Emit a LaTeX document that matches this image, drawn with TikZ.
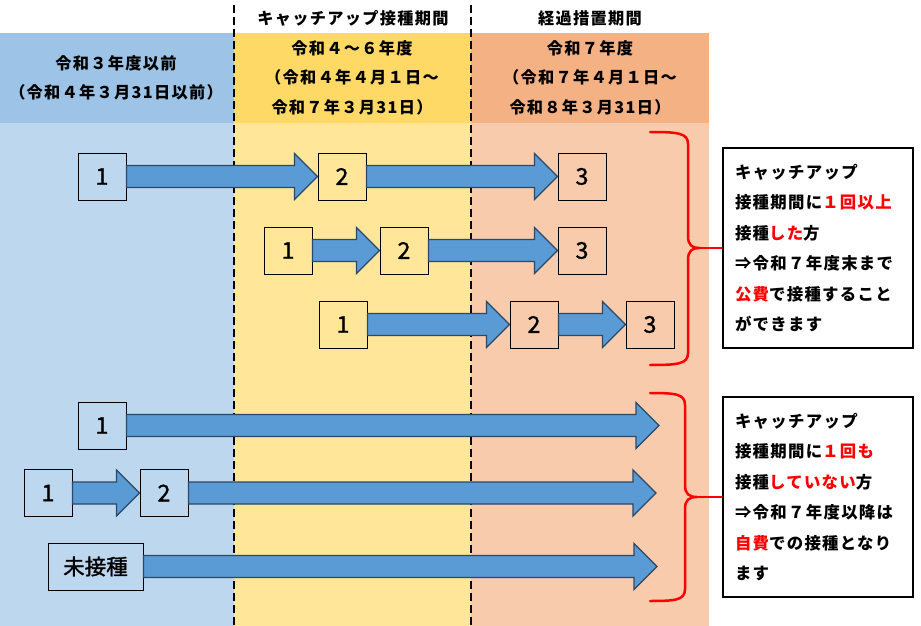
\documentclass[tikz,border=0pt]{standalone}
\usepackage{fontspec}
\usetikzlibrary{calc}
\newfontfamily\jp{Noto Sans CJK JP}[LetterSpace=8]
\newfontfamily\jpn{Noto Sans CJK JP}[FakeBold=1.3]
\definecolor{hblue}{HTML}{9DC3E6}
\definecolor{bblue}{HTML}{BDD7EE}
\definecolor{hyel}{HTML}{FFD966}
\definecolor{byel}{HTML}{FFE699}
\definecolor{hora}{HTML}{F4B183}
\definecolor{bora}{HTML}{F8CBAD}
\definecolor{arrowblue}{HTML}{5B9BD5}
\definecolor{arrowedge}{HTML}{2A4868}
\definecolor{redtxt}{HTML}{FF0000}
\newcommand\red[1]{\textcolor{redtxt}{#1}}
\newcommand\fatarrow[2]{%
  \path[fatarr] let \p1=(#1), \p2=(#2) in
  (\x1,\y1+11pt) -- (\x2-23pt,\y1+11pt) -- (\x2-23pt,\y1+23pt) -- (\x2,\y1)
  -- (\x2-23pt,\y1-23pt) -- (\x2-23pt,\y1-11pt) -- (\x1,\y1-11pt) -- cycle;}
\tikzset{
  numbox/.style={draw=black, line width=1pt, minimum width=48pt, minimum height=47pt, inner sep=0pt, font=\jpn\fontsize{23}{24}\selectfont},
  fatarr/.style={fill=arrowblue, draw=arrowedge, line width=1.3pt, line join=miter},
  hdr/.style={font=\jp\bfseries\fontsize{16.2}{29.5}\selectfont, align=center, inner sep=0pt},
  note/.style={draw=black, line width=2.5pt, fill=white, minimum width=190pt, minimum height=200pt, text width=166pt, inner xsep=12pt, inner ysep=0pt, align=left, font=\jp\bfseries\fontsize{16.4}{30.5}\selectfont},
  bracepath/.style={draw=redtxt, line width=2.5pt, line cap=round},
  divider/.style={draw=black, line width=2pt, dash pattern=on 8pt off 4pt}
}
\begin{document}
\begin{tikzpicture}[x=1pt, y=-1pt]
\useasboundingbox (0,0) rectangle (921,626);
\fill[white] (0,0) rectangle (921,626);
% columns
\fill[hblue] (0,33) rectangle (234,123);
\fill[bblue] (0,123) rectangle (234,626);
\fill[hyel] (234,33) rectangle (471,123);
\fill[byel] (234,123) rectangle (471,626);
\fill[hora] (471,33) rectangle (709,123);
\fill[bora] (471,123) rectangle (709,626);
\draw[divider] (234,5) -- (234,626);
\draw[divider] (471,5) -- (471,626);
% headers
\node[hdr] (lab1) at (353,18) {キャッチアップ接種期間};
\node[hdr] (lab2) at (590,18) {経過措置期間};
\node[hdr] (h1) at (116,78) {令和３年度以前\\（令和４年３月31日以前）};
\node[hdr] (h2) at (352,77.5) {令和４～６年度\\（令和４年４月１日～\\令和７年３月31日）};
\node[hdr] (h3) at (590,77.5) {令和７年度\\（令和７年４月１日～\\令和８年３月31日）};
% boxes
\node[numbox] (r1a) at (102,176.5) {1};
\node[numbox] (r1b) at (342,176.5) {2};
\node[numbox] (r1c) at (582,176.5) {3};
\node[numbox] (r2a) at (288,250.5) {1};
\node[numbox] (r2b) at (404,250.5) {2};
\node[numbox] (r2c) at (582,250.5) {3};
\node[numbox] (r3a) at (343,324.5) {1};
\node[numbox] (r3b) at (534,324.5) {2};
\node[numbox] (r3c) at (650,324.5) {3};
\node[numbox] (r4a) at (102,425.5) {1};
\node[numbox] (r5a) at (48,493) {1};
\node[numbox] (r5b) at (164,493) {2};
\node[numbox, minimum width=95pt, font=\jpn\fontsize{21.5}{24}\selectfont] (r6a) at (95.5,566.5) {未接種};
\coordinate (r4end) at (659,425.5);
\coordinate (r5end) at (656,493);
\coordinate (r6end) at (657,566.5);
% arrows
\fatarrow{r1a.east}{r1b.west}
\fatarrow{r1b.east}{r1c.west}
\fatarrow{r2a.east}{r2b.west}
\fatarrow{r2b.east}{r2c.west}
\fatarrow{r3a.east}{r3b.west}
\fatarrow{r3b.east}{r3c.west}
\fatarrow{r4a.east}{r4end}
\fatarrow{r5a.east}{r5b.west}
\fatarrow{r5b.east}{r5end}
\fatarrow{r6a.east}{r6end}
% notes
\node[note] (n1) at (818,248) {キャッチアップ\\接種期間に\red{１回以上}\\接種\red{した}方\\⇒令和７年度末まで\\\red{公費}で接種すること\\ができます};
\node[note] (n2) at (818,497) {キャッチアップ\\接種期間に\red{１回も}\\接種\red{していない}方\\⇒令和７年度以降は\\\red{自費}での接種となり\\ます};
% braces
\coordinate (t1) at (699,248);
\coordinate (t2) at (697,497);
\draw[bracepath] (650,132) .. controls (678,132) and (688,133) .. (688,144) -- (688,236)
  .. controls (688,245) and (692,248) .. (t1)
  .. controls (692,248) and (688,251) .. (688,260) -- (688,353)
  .. controls (688,364) and (678,365) .. (650,365);
\draw[bracepath] (t1) -- (n1.west);
\draw[bracepath] (650,393) .. controls (676,393) and (685,394) .. (685,405) -- (685,485)
  .. controls (685,494) and (689,497) .. (t2)
  .. controls (689,497) and (685,500) .. (685,509) -- (685,589)
  .. controls (685,600) and (676,601) .. (650,601);
\draw[bracepath] (t2) -- (n2.west);
\end{tikzpicture}
\end{document}
